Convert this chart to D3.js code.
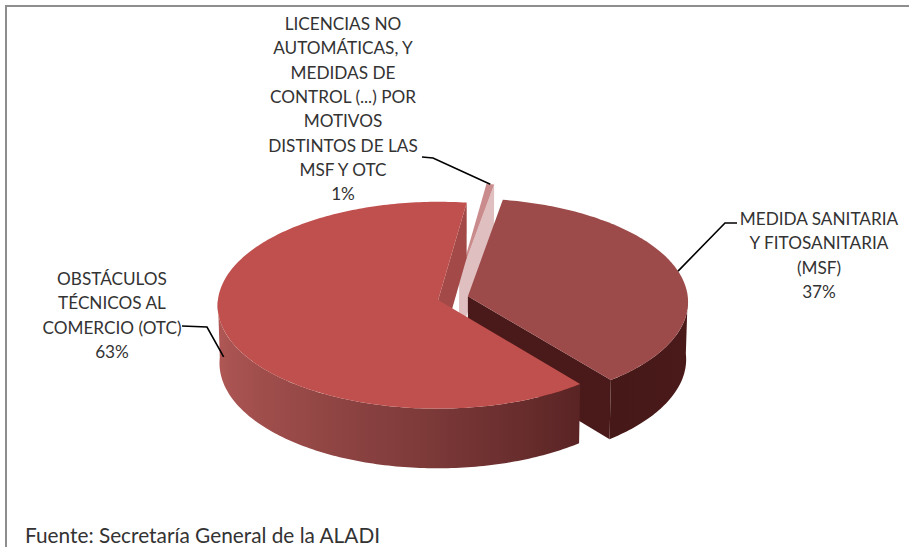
<!DOCTYPE html>
<html>
<head>
<meta charset="utf-8">
<script src="https://cdn.jsdelivr.net/npm/d3@7"></script>
<style>
  body { margin: 0; background: #fff; }
  svg { display: block; }
</style>
</head>
<body>
<script>
// data
const categories = ["MSF", "OTC", "LIC"];
const values = [36.6, 62.8, 0.6];
const labelLines = [
    ["MEDIDA SANITARIA", "Y FITOSANITARIA", "(MSF)"],
    ["OBSTÁCULOS", "TÉCNICOS AL", "COMERCIO (OTC)"],
    ["LICENCIAS NO", "AUTOMÁTICAS, Y", "MEDIDAS DE", "CONTROL (...) POR", "MOTIVOS", "DISTINTOS DE LAS", "MSF Y OTC"]
];
const sourceText = "Fuente: Secretaría General de la ALADI";

// layout / style
const W = 909, H = 547;
const cx = 453, cy = 298, R = 220;      // pie centre and radius in px
const sinTilt = 0.468, camDist = 17.3;   // 3d view
const depth = 0.298;                     // thickness, in radius units
const startDeg = 9.8;
const explode = [0.07, 0.07, 0.185];
const topColors = ["#9d4b4a", "#c0504d", "#c98b8c"];
const sideColors = [["#4b1b1a", "#461817"], ["#5a2324", "#7e3b3a", "#a04e4c", "#b45a58"], ["#d8b0b1", "#d8b0b1"]];
const endColors = ["#4a1a1a", "#a34a48", "#e0bfc0"];
const labelPos = [
    { x: 819, y: 225, leader: [[737, 223], [725, 223]], yFrac: 0 },
    { x: 112, y: 285, leader: [[182, 326], [207, 327]], yFrac: 0.5 },
    { x: 343, y: 30, leader: [[422, 157], [433, 158]], yFrac: 0 }
];
const lineH = 24.3;

const cosTilt = Math.sqrt(1 - sinTilt * sinTilt);
function project(X, Y, Z) {
    const u = Y * cosTilt - Z * sinTilt;
    const w = Z * cosTilt + Y * sinTilt;
    const s = camDist / (camDist - w);
    return [cx + R * X * s, cy - R * u * s];
}

const svg = d3.select("body").append("svg")
    .attr("width", W)
    .attr("height", H);
const defs = svg.append("defs");

// frame (only top and left edges show)
svg.append("line").attr("x1", 5).attr("y1", 6).attr("x2", W).attr("y2", 6)
    .attr("stroke", "#8e8e8e").attr("stroke-width", 2);
svg.append("line").attr("x1", 6).attr("y1", 5).attr("x2", 6).attr("y2", H)
    .attr("stroke", "#8e8e8e").attr("stroke-width", 2);

const a0 = startDeg * Math.PI / 180;
const pie = d3.pie().sort(null).value(d => d).startAngle(a0).endAngle(a0 + 2 * Math.PI);
const arcs = pie(values);
const line = d3.line();
const total = d3.sum(values);
const pct = d3.format(".0%");

function steps(a, b) {
    const n = Math.max(2, Math.ceil((b - a) / (Math.PI / 180)));
    return d3.range(n + 1).map(i => a + (b - a) * i / n);
}

arcs.forEach((d, i) => {
    d.i = i;
    d.mid = (d.startAngle + d.endAngle) / 2;
    d.off = [explode[i] * Math.sin(d.mid), -explode[i] * Math.cos(d.mid)];
    d.P = (a, Y, r = 1) => project(d.off[0] + r * Math.sin(a), Y, d.off[1] - r * Math.cos(a));
});

// back to front
const order = arcs.slice().sort((a, b) => (-Math.cos(a.mid)) - (-Math.cos(b.mid)));
const gPie = svg.append("g");

order.forEach(d => {
    const g = gPie.append("g");
    const P = d.P;

    // outer side, only the part that faces the viewer
    [0, 2 * Math.PI].forEach(k => {
        const lo = Math.max(d.startAngle, Math.PI / 2 + k);
        const hi = Math.min(d.endAngle, 1.5 * Math.PI + k);
        if (hi <= lo) return;
        const angs = steps(lo, hi);
        const pts = angs.map(a => P(a, 0)).concat(angs.slice().reverse().map(a => P(a, -depth)));
        const gid = "side" + d.i + "_" + k;
        const x1 = P(lo, 0)[0], x2 = P(hi, 0)[0];
        const grad = defs.append("linearGradient").attr("id", gid)
            .attr("gradientUnits", "userSpaceOnUse")
            .attr("x1", x1).attr("y1", 0)
            .attr("x2", x2).attr("y2", 0);
        const col = d3.interpolateRgbBasis(sideColors[d.i]);
        // lo angle is the front/right end, hi is the left end
        angs.filter((_, j) => j % 10 === 0 || j === angs.length - 1).forEach(a => {
            const t = (a - lo) / (hi - lo);
            grad.append("stop")
                .attr("offset", Math.max(0, Math.min(1, (P(a, 0)[0] - x1) / (x2 - x1))))
                .attr("stop-color", col(t));
        });
        g.append("path").attr("d", line(pts) + "Z").attr("fill", `url(#${gid})`);
    });

    // radial faces that face the viewer
    const face = a => [P(a, 0, 0), P(a, 0), P(a, -depth), P(a, -depth, 0)];
    if (Math.sin(d.endAngle) > 0) {
        g.append("path").attr("d", line(face(d.endAngle)) + "Z").attr("fill", endColors[d.i]);
    }
    if (Math.sin(d.startAngle) < 0) {
        g.append("path").attr("d", line(face(d.startAngle)) + "Z").attr("fill", endColors[d.i]);
    }

    // top face
    const topPts = [P(0, 0, 0)].concat(steps(d.startAngle, d.endAngle).map(a => P(a, 0)));
    g.append("path").attr("d", line(topPts) + "Z").attr("fill", topColors[d.i]);
});

// labels and leader lines
const gLab = svg.append("g")
    .attr("font-family", "Lato, 'Liberation Sans', sans-serif")
    .attr("font-size", 17.2)
    .attr("fill", "#333")
    .attr("text-anchor", "middle");

arcs.forEach(d => {
    const lp = labelPos[d.i];
    const end = d.P(d.mid, -depth * lp.yFrac);
    svg.append("path")
        .attr("d", line(lp.leader.concat([end])))
        .attr("fill", "none")
        .attr("stroke", "#000")
        .attr("stroke-width", 1.6);
    const lines = labelLines[d.i].concat([pct(d.value / total)]);
    const t = gLab.append("text").attr("x", lp.x).attr("y", lp.y);
    lines.forEach((s, j) => {
        t.append("tspan").attr("x", lp.x).attr("y", lp.y + j * lineH).text(s);
    });
});

svg.append("text")
    .attr("x", 25).attr("y", 543)
    .attr("font-family", "Lato, 'Liberation Sans', sans-serif")
    .attr("font-size", 20.8)
    .attr("fill", "#333")
    .text(sourceText);
</script>
</body>
</html>
